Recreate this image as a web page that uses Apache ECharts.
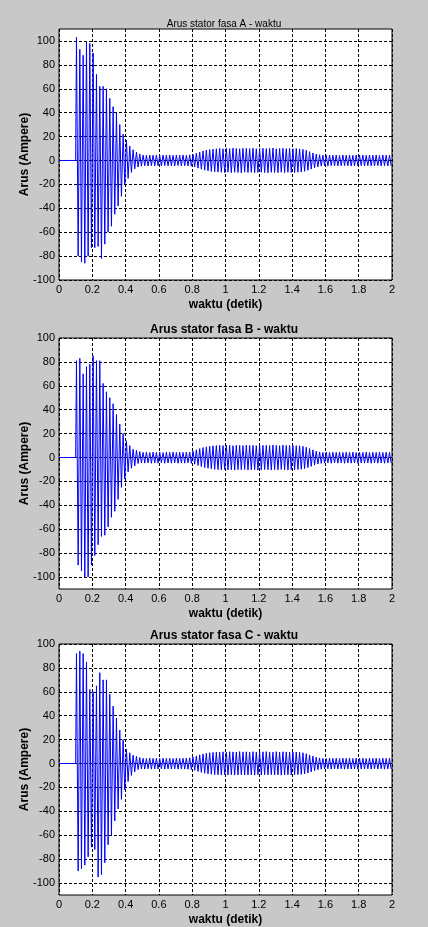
<!DOCTYPE html>
<html>
<head>
<meta charset="utf-8">
<script src="https://cdn.jsdelivr.net/npm/echarts@6/dist/echarts.min.js"></script>
<style>
html, body { margin: 0; padding: 0; background: #c8c8c8; }
#chart { width: 428px; height: 927px; }
</style>
</head>
<body>
<div id="chart"></div>
<script>
// judul tiap subplot
var titles = ['Arus stator fasa A - waktu', 'Arus stator fasa B - waktu', 'Arus stator fasa C - waktu'];
var xName = 'waktu (detik)';
var yName = 'Arus (Ampere)';

// sinyal mulai di t = 0.1 s, satu siklus 50 Hz = 0.02 s
var startT = 0.1;
var period = 0.02;

// puncak positif / negatif tiap siklus
var posA = [
  103, 93, 88, 99, 98, 90, 72, 62, 62, 60, 52, 45, 40, 30, 22, 17, 12, 9, 7, 5.5,
  4.6, 4.3, 4.5, 4.4, 4.6, 4.2, 4.5, 4.4, 4.6, 4.3, 4.5, 4.4, 4.6, 4.3, 4.7,
  5.2, 6.2, 7.1, 8.0, 8.6, 9.1, 9.5, 9.8,
  10.1, 9.8, 10.2, 9.9, 10.3, 10.0, 9.8, 10.2, 10.1, 9.9, 10.3, 9.8, 10.0, 10.2, 9.9, 10.1, 10.4, 9.8, 10.0, 10.2, 9.9, 10.1, 9.8, 10.0, 9.7,
  9.3, 8.5, 7.4, 6.3, 5.4, 4.8,
  4.5, 4.3, 4.6, 4.4, 4.5, 4.2, 4.6, 4.4, 4.5, 4.3, 4.6, 4.4, 4.5, 4.3, 4.6, 4.4, 4.5, 4.2, 4.6, 4.4, 4.5
];
var negA = [
  -80, -85, -86, -80, -73, -73, -72, -82, -70, -60, -55, -45, -38, -30, -20, -15, -10, -7, -5.5, -4.8,
  -4.5, -4.6, -4.3, -4.5, -4.4, -4.6, -4.3, -4.5, -4.4, -4.6, -4.2, -4.5, -4.4, -4.6, -4.8,
  -5.4, -6.4, -7.3, -8.1, -8.7, -9.2, -9.5, -9.7,
  -9.9, -10.1, -9.8, -10.2, -9.9, -10.0, -10.3, -9.8, -10.1, -9.9, -10.2, -10.0, -9.8, -10.1, -10.3, -9.9, -10.0, -10.2, -9.8, -10.1, -9.9, -10.0, -10.2, -9.8, -9.6,
  -9.1, -8.2, -7.2, -6.1, -5.3, -4.7,
  -4.4, -4.6, -4.3, -4.5, -4.6, -4.4, -4.3, -4.5, -4.6, -4.4, -4.5, -4.3, -4.6, -4.4, -4.5, -4.6, -4.3, -4.5, -4.4, -4.6, -4.5
];
var posB = [
  81, 83, 70, 76, 78, 85, 81, 81, 62, 55, 50, 45, 36, 28, 20, 14, 10, 7, 6, 5,
  4.3, 4.5, 4.2, 4.4, 4.3, 4.5, 4.1, 4.4, 4.3, 4.5, 4.2, 4.4, 4.3, 4.5, 4.6,
  5.4, 6.5, 7.5, 8.3, 8.9, 9.4, 9.8, 10.0,
  10.2, 10.0, 10.4, 10.1, 9.9, 10.3, 10.2, 10.0, 10.4, 10.1, 10.2, 9.9, 10.3, 10.1, 10.2, 10.0, 10.4, 10.1, 9.9, 10.3, 10.1, 10.2, 10.0, 9.9, 9.8,
  9.4, 8.6, 7.5, 6.4, 5.3, 4.7,
  4.3, 4.5, 4.2, 4.4, 4.3, 4.5, 4.2, 4.4, 4.3, 4.5, 4.2, 4.4, 4.3, 4.5, 4.2, 4.4, 4.3, 4.5, 4.2, 4.4, 4.3
];
var negB = [
  -90, -95, -100, -100, -90, -82, -73, -66, -65, -58, -50, -45, -35, -25, -18, -12, -9, -7, -5, -4.6,
  -4.7, -4.5, -4.8, -4.6, -4.7, -4.5, -4.8, -4.6, -4.7, -4.5, -4.8, -4.6, -4.7, -4.5, -4.9,
  -5.6, -6.6, -7.6, -8.4, -9.0, -9.5, -9.9, -10.1,
  -10.3, -10.0, -10.4, -10.2, -10.5, -10.1, -10.3, -10.0, -10.4, -10.2, -10.1, -10.5, -10.3, -10.0, -10.2, -10.4, -10.1, -10.3, -10.0, -10.2, -10.4, -10.1, -10.3, -10.0, -9.8,
  -9.3, -8.4, -7.4, -6.3, -5.4, -4.9,
  -4.7, -4.5, -4.8, -4.6, -4.7, -4.5, -4.8, -4.6, -4.7, -4.5, -4.8, -4.6, -4.7, -4.5, -4.8, -4.6, -4.7, -4.5, -4.8, -4.6, -4.7
];
var posC = [
  92, 94, 92, 85, 62, 60, 65, 76, 70, 70, 58, 48, 38, 28, 20, 12, 9, 7, 6, 5,
  4.4, 4.2, 4.5, 4.3, 4.4, 4.2, 4.5, 4.3, 4.4, 4.2, 4.5, 4.3, 4.4, 4.6, 4.8,
  5.5, 6.4, 7.3, 8.0, 8.6, 9.0, 9.3, 9.5,
  9.6, 9.8, 9.5, 9.9, 9.7, 9.6, 10.0, 9.7, 9.8, 9.5, 9.9, 9.7, 9.6, 9.8, 10.0, 9.7, 9.5, 9.9, 9.6, 9.8, 9.7, 9.5, 9.8, 9.6, 9.4,
  9.0, 8.2, 7.2, 6.2, 5.3, 4.7,
  4.4, 4.2, 4.5, 4.3, 4.4, 4.2, 4.5, 4.3, 4.4, 4.2, 4.5, 4.3, 4.4, 4.2, 4.5, 4.3, 4.4, 4.2, 4.5, 4.3, 4.4
];
var negC = [
  -90, -88, -85, -78, -70, -72, -95, -93, -83, -68, -60, -48, -38, -30, -22, -15, -10, -7, -5, -4.6,
  -4.6, -4.4, -4.7, -4.5, -4.6, -4.4, -4.7, -4.5, -4.6, -4.4, -4.7, -4.5, -4.6, -4.8, -5.0,
  -5.7, -6.6, -7.4, -8.1, -8.6, -9.0, -9.3, -9.4,
  -9.5, -9.3, -9.6, -9.4, -9.7, -9.5, -9.3, -9.6, -9.4, -9.5, -9.7, -9.3, -9.6, -9.4, -9.5, -9.3, -9.6, -9.4, -9.7, -9.5, -9.3, -9.6, -9.4, -9.2, -9.1,
  -8.7, -7.9, -7.0, -6.0, -5.2, -4.8,
  -4.6, -4.4, -4.7, -4.5, -4.6, -4.4, -4.7, -4.5, -4.6, -4.4, -4.7, -4.5, -4.6, -4.4, -4.7, -4.5, -4.6, -4.4, -4.7, -4.5, -4.6
];

var yRanges = [[-100, 110], [-110, 100], [-110, 100]];

function buildPoints(pos, neg) {
    var pts = [[0, 0], [startT, 0]];
    for (var k = 0; k < pos.length; k++) {
        pts.push([startT + k * period + period / 4, pos[k]]);
        pts.push([startT + k * period + period * 3 / 4, neg[k]]);
    }
    return pts;
}

var font = 'Liberation Sans, Arial, sans-serif';
var gridTops = [29, 338, 644];
var gridHeights = [251, 251, 252];
var titleTops = [14, 319, 625];
var phases = [[posA, negA], [posB, negB], [posC, negC]];

var chart = echarts.init(document.getElementById('chart'), null, { renderer: 'canvas' });

var option = {
    animation: false,
    backgroundColor: '#c8c8c8',
    title: [], grid: [], xAxis: [], yAxis: [], series: []
};

for (var i = 0; i < 3; i++) {
    option.title.push({
        text: titles[i],
        left: 219,
        top: titleTops[i],
        textAlign: 'center',
        textStyle: {
            fontFamily: font,
            fontSize: i === 0 ? 10 : 12,
            fontWeight: i === 0 ? 'normal' : 'bold',
            color: '#000'
        }
    });
    option.grid.push({
        left: 59, width: 333, top: gridTops[i], height: gridHeights[i],
        show: true, backgroundColor: '#fff', borderColor: '#000', borderWidth: 1
    });
    option.xAxis.push({
        gridIndex: i, type: 'value', min: 0, max: 2, interval: 0.2,
        axisLine: { show: false }, axisTick: { show: false },
        axisLabel: { color: '#000', fontSize: 11, fontFamily: font, margin: 4 },
        splitLine: { show: true, lineStyle: { color: '#000', width: 1, type: [3, 2] } },
        name: xName, nameLocation: 'middle', nameGap: 19,
        nameTextStyle: { fontFamily: font, fontSize: 12, fontWeight: 'bold', color: '#000' }
    });
    option.yAxis.push({
        gridIndex: i, type: 'value', min: yRanges[i][0], max: yRanges[i][1], interval: 10,
        axisLine: { show: false }, axisTick: { show: false },
        axisLabel: {
            color: '#000', fontSize: 11, fontFamily: font, margin: 4,
            formatter: function (v) { return v % 20 === 0 ? String(v) : ''; }
        },
        splitLine: {
            show: true,
            lineStyle: {
                // garis grid hanya tiap 20
                color: i === 0 ? ['#000', 'rgba(0,0,0,0)'] : ['rgba(0,0,0,0)', '#000'],
                width: 1, type: [3, 2]
            }
        },
        name: yName, nameLocation: 'middle', nameGap: 28, nameMoveOverlap: false,
        nameTextStyle: { fontFamily: font, fontSize: 12, fontWeight: 'bold', color: '#000' }
    });
    option.series.push({
        type: 'line',
        xAxisIndex: i, yAxisIndex: i,
        data: buildPoints(phases[i][0], phases[i][1]),
        showSymbol: false, symbol: 'none',
        lineStyle: { color: '#0000ff', width: 1 },
        silent: true
    });
}

chart.setOption(option);
</script>
</body>
</html>
